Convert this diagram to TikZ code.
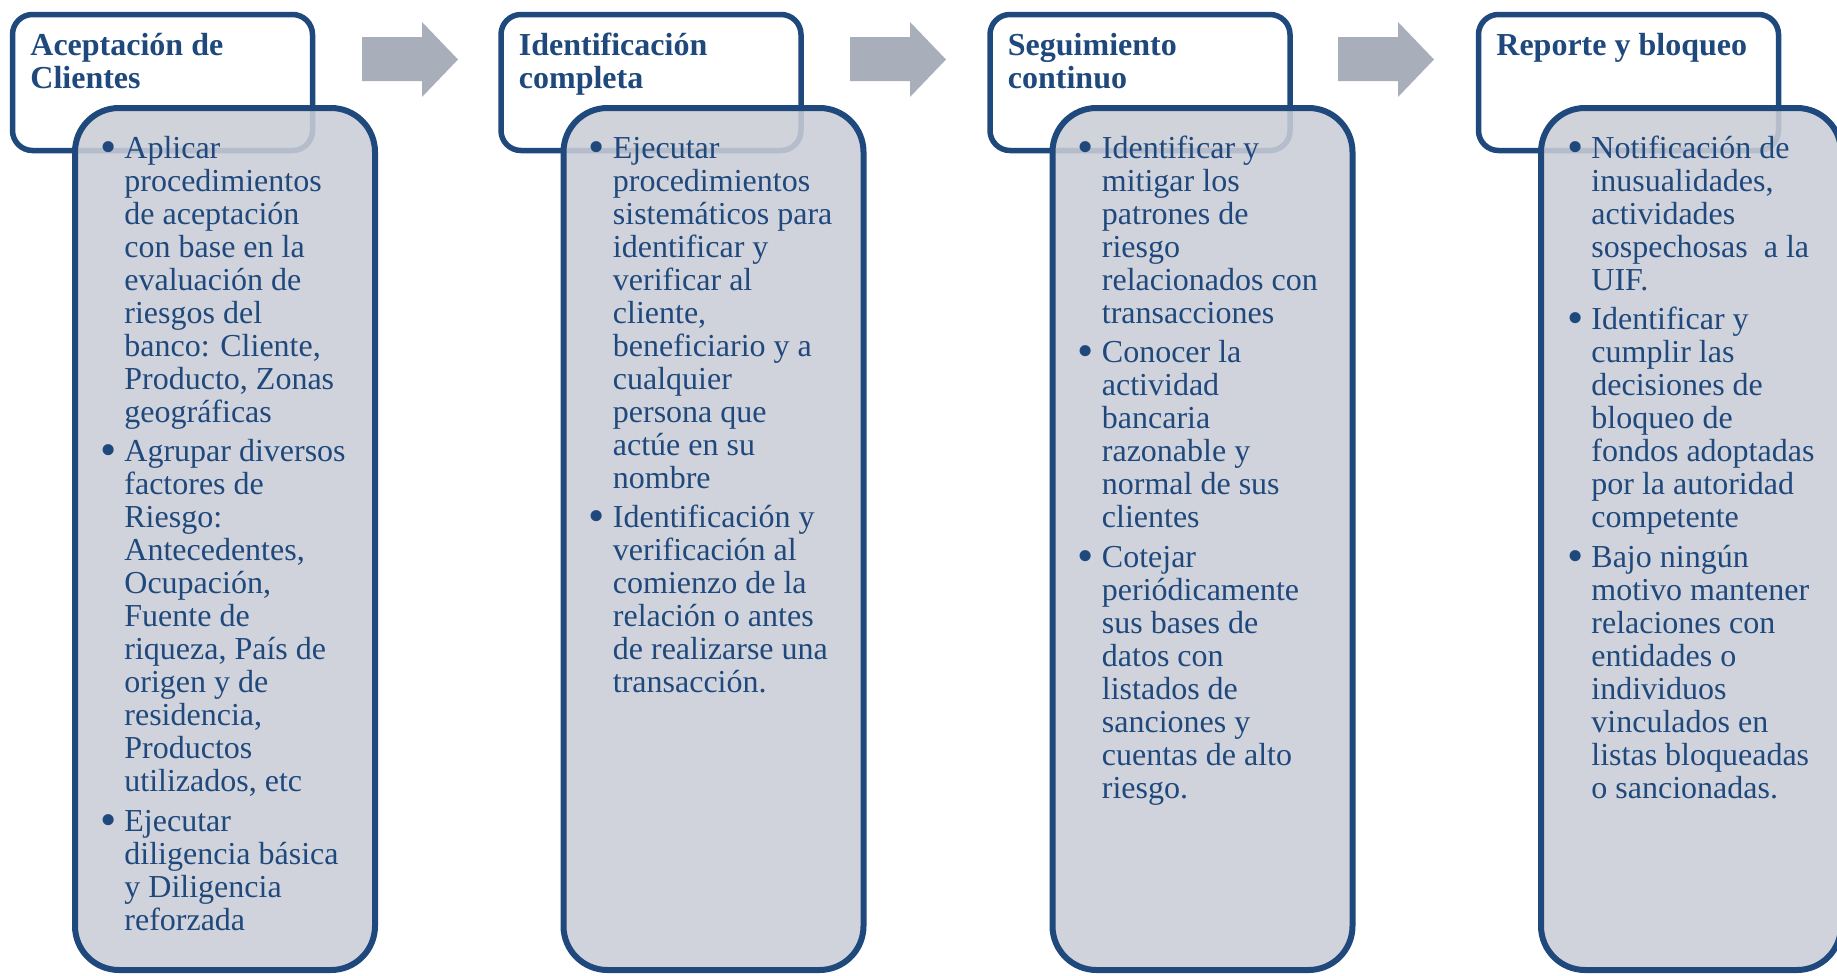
\documentclass[tikz,border=0pt]{standalone}
\usepackage{fontspec}
\setmainfont{Liberation Serif}
\definecolor{dblue}{HTML}{1F497D}
\definecolor{bodyfill}{HTML}{CACDD6}
\definecolor{arrowgray}{HTML}{A9AEBB}
\newcommand\bu{\makebox[11.5pt][l]{\hspace{-0.6pt}\raisebox{-2.1pt}{\scalebox{1.45}{\textbullet}}}}
\tikzset{
  headbox/.style={draw=dblue, line width=2.75pt, fill=white, rounded corners=10pt,
    anchor=north west, minimum width=150pt, minimum height=68pt, inner sep=0pt, outer sep=0pt},
  bodybox/.style={draw=dblue, line width=3pt, fill=bodyfill, fill opacity=0.88, rounded corners=22pt,
    anchor=north west, minimum width=150pt, minimum height=431pt, inner sep=0pt, outer sep=0pt},
  titletext/.style={anchor=base west, inner sep=0pt, text=dblue, font=\fontsize{16}{16.5}\selectfont\bfseries},
  itemtext/.style={anchor=base west, inner sep=0pt, text=dblue, font=\fontsize{16}{16.5}\selectfont},
  blockarrow/.style={fill=arrowgray}
}
\begin{document}
\begin{tikzpicture}[x=0.5pt,y=-0.5pt]
\useasboundingbox (0,0) rectangle (1837,975);
\clip (0,0) rectangle (1837,975);

% arrows
\foreach \xo in {362,850,1338}{
  \fill[blockarrow] (\xo,37) -- (\xo+60,37) -- (\xo+60,22) -- (\xo+96,59.5) -- (\xo+60,97) -- (\xo+60,81) -- (\xo,81) -- cycle;
}

% Box 1
\node[headbox] (h1) at (12.5,14.5) {};
\node[titletext] (t1) at (30,55) {\begin{tabular}[t]{@{}l@{}}Aceptación de\\Clientes\end{tabular}};
\node[bodybox] (b1) at (75,108) {};
\node[itemtext] (i1) at (101,158) {\begin{tabular}[t]{@{}l@{}l@{}}
\bu & Aplicar\\ & procedimientos\\ & de aceptación\\ & con base en la\\ & evaluación de\\ & riesgos del\\ & banco: Cliente,\\ & Producto, Zonas\\ & geográficas\\[3.25pt]
\bu & Agrupar diversos\\ & factores de\\ & Riesgo:\\ & Antecedentes,\\ & Ocupación,\\ & Fuente de\\ & riqueza, País de\\ & origen y de\\ & residencia,\\ & Productos\\ & utilizados, etc\\[3.25pt]
\bu & Ejecutar\\ & diligencia básica\\ & y Diligencia\\ & reforzada
\end{tabular}};

% Box 2
\node[headbox] (h2) at (501,14.5) {};
\node[titletext] (t2) at (518.5,55) {\begin{tabular}[t]{@{}l@{}}Identificación\\completa\end{tabular}};
\node[bodybox] (b2) at (563.5,108) {};
\node[itemtext] (i2) at (589.5,158) {\begin{tabular}[t]{@{}l@{}l@{}}
\bu & Ejecutar\\ & procedimientos\\ & sistemáticos para\\ & identificar y\\ & verificar al\\ & cliente,\\ & beneficiario y a\\ & cualquier\\ & persona que\\ & actúe en su\\ & nombre\\[3.25pt]
\bu & Identificación y\\ & verificación al\\ & comienzo de la\\ & relación o antes\\ & de realizarse una\\ & transacción.
\end{tabular}};

% Box 3
\node[headbox] (h3) at (990,14.5) {};
\node[titletext] (t3) at (1007.5,55) {\begin{tabular}[t]{@{}l@{}}Seguimiento\\continuo\end{tabular}};
\node[bodybox] (b3) at (1052.5,108) {};
\node[itemtext] (i3) at (1078.5,158) {\begin{tabular}[t]{@{}l@{}l@{}}
\bu & Identificar y\\ & mitigar los\\ & patrones de\\ & riesgo\\ & relacionados con\\ & transacciones\\[3.25pt]
\bu & Conocer la\\ & actividad\\ & bancaria\\ & razonable y\\ & normal de sus\\ & clientes\\[3.25pt]
\bu & Cotejar\\ & periódicamente\\ & sus bases de\\ & datos con\\ & listados de\\ & sanciones y\\ & cuentas de alto\\ & riesgo.
\end{tabular}};

% Box 4
\node[headbox] (h4) at (1478.5,14.5) {};
\node[titletext] (t4) at (1496,55) {\begin{tabular}[t]{@{}l@{}}Reporte y bloqueo\end{tabular}};
\node[bodybox] (b4) at (1541,108) {};
\node[itemtext] (i4) at (1568,158) {\begin{tabular}[t]{@{}l@{}l@{}}
\bu & Notificación de\\ & inusualidades,\\ & actividades\\ & sospechosas\ \ a la\\ & UIF.\\[3.25pt]
\bu & Identificar y\\ & cumplir las\\ & decisiones de\\ & bloqueo de\\ & fondos adoptadas\\ & por la autoridad\\ & competente\\[3.25pt]
\bu & Bajo ningún\\ & motivo mantener\\ & relaciones con\\ & entidades o\\ & individuos\\ & vinculados en\\ & listas bloqueadas\\ & o sancionadas.
\end{tabular}};
\end{tikzpicture}
\end{document}
